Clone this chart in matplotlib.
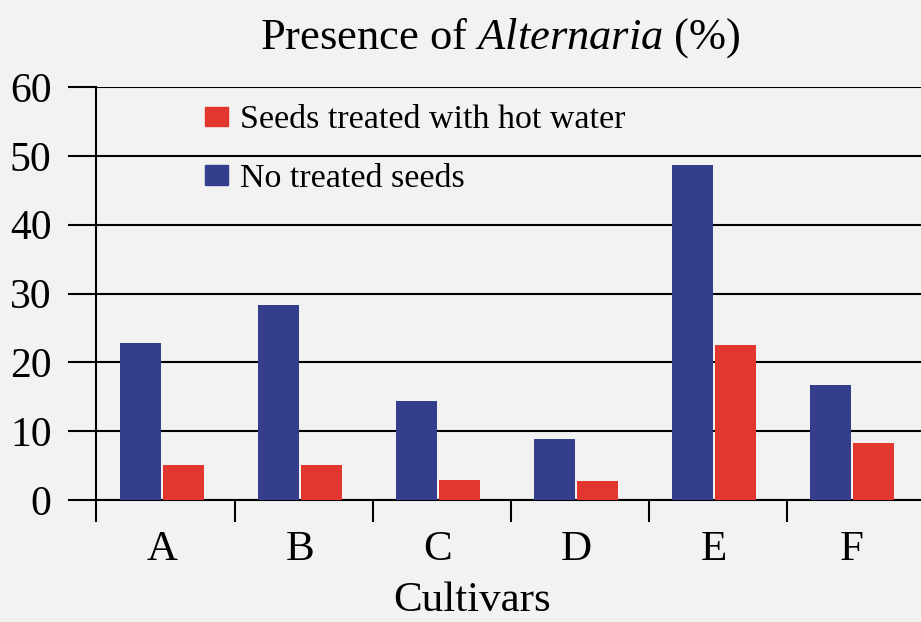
import matplotlib
matplotlib.use("Agg")
import matplotlib.pyplot as plt
from matplotlib.patches import Patch
import numpy

# values (percent of seeds with Alternaria)
cultivars = ['A', 'B', 'C', 'D', 'E', 'F']
no_treated = [22.8, 28.3, 14.4, 8.9, 48.7, 16.7]
hot_water = [5.1, 5.1, 2.9, 2.8, 22.5, 8.3]
y_ticks = [0, 10, 20, 30, 40, 50, 60]

blue = '#343e8c'
red = '#e2372f'

plt.rcParams['font.family'] = ['Liberation Serif', 'DejaVu Serif']
plt.rcParams['mathtext.fontset'] = 'custom'
plt.rcParams['mathtext.rm'] = 'Liberation Serif'
plt.rcParams['mathtext.it'] = 'Liberation Serif:italic'

fig = plt.figure(figsize=(9.21, 6.22), dpi=100, facecolor='#f2f2f2')
ax = fig.add_axes([0.1042, 0.196, 0.8958, 0.664])
ax.set_facecolor('none')

x = numpy.arange(len(cultivars))
w = 0.297
ax.bar(x - 0.156, no_treated, w, color=blue, zorder=3)
ax.bar(x + 0.156, hot_water, w, color=red, zorder=3)

ax.set_xlim(-0.478, 5.5)
ax.set_ylim(0, 60)

# y axis: gridlines plus long outward ticks
ax.set_yticks(y_ticks)
ax.tick_params(axis='y', direction='out', length=20, width=1.5, pad=12,
               labelsize=30, color='black')
ax.yaxis.grid(True, color='black', linewidth=1.5, zorder=1)

# x axis: boundary ticks (major) and category labels (minor)
ax.set_xticks(list(x[:-1] + 0.53) + [-0.478])
ax.set_xticklabels([])
ax.tick_params(axis='x', which='major', direction='out', length=16, width=1.5)
ax.set_xticks(x, minor=True)
ax.set_xticklabels(cultivars, minor=True)
ax.tick_params(axis='x', which='minor', length=0, pad=22, labelsize=31)

for s in ['top', 'right']:
    ax.spines[s].set_visible(False)
ax.spines['left'].set_linewidth(1.5)
ax.spines['bottom'].set_linewidth(1.5)

handles = [Patch(color=red), Patch(color=blue)]
labels = ['Seeds treated with hot water', 'No treated seeds']
ax.legend(handles, labels, loc='upper left', bbox_to_anchor=(205 / 921, 1 - 105 / 622),
          bbox_transform=fig.transFigure, frameon=False, fontsize=24.5,
          handlelength=0.68, handleheight=0.52, handletextpad=0.35,
          labelspacing=0.82, borderpad=0, borderaxespad=0)

fig.text(0.543, 0.939, 'Presence of $\\mathit{Alternaria}$ (%)', ha='center', va='center', fontsize=32)
fig.text(0.513, 0.034, 'Cultivars', ha='center', va='center', fontsize=31)

fig.savefig('out.png', dpi=100, facecolor=fig.get_facecolor())
